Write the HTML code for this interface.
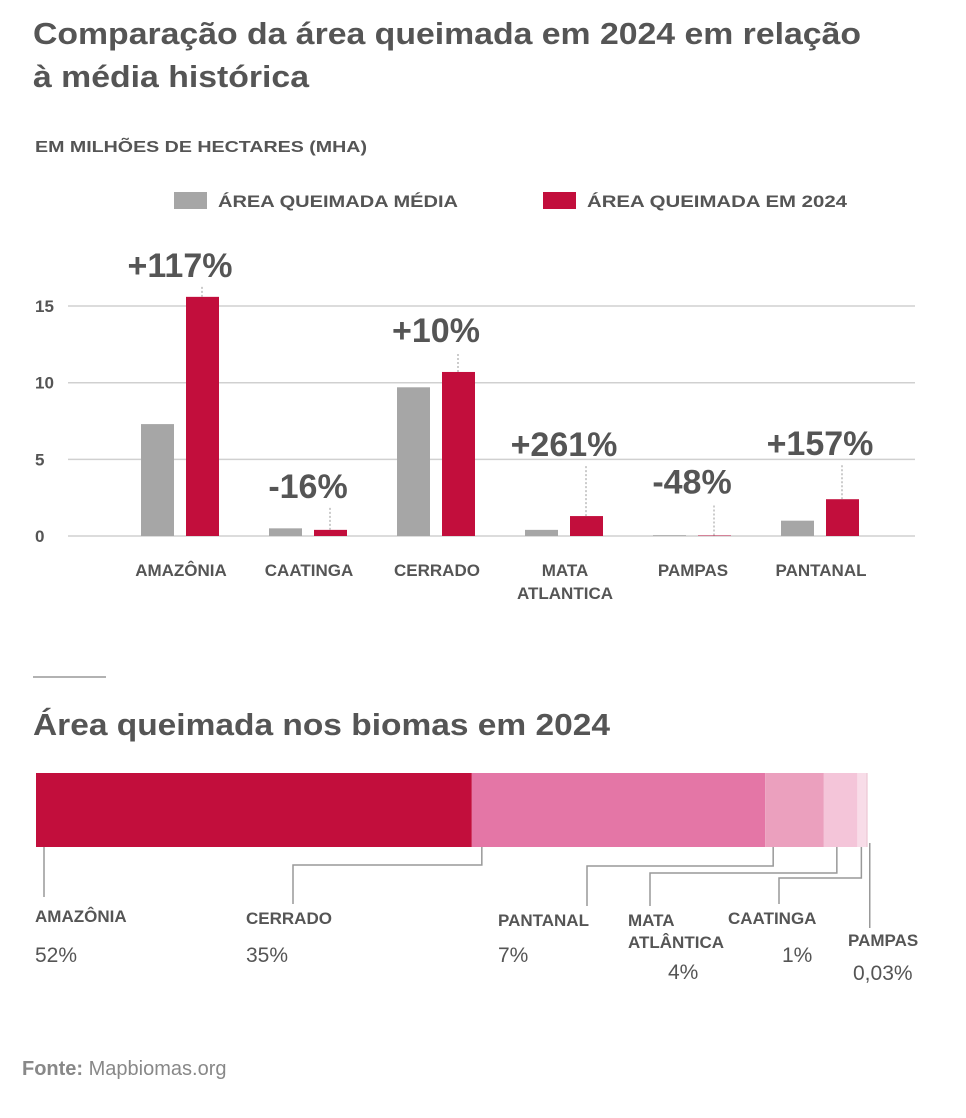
<!DOCTYPE html>
<html><head><meta charset="utf-8"><style>
body{margin:0;background:#fff;}
svg{display:block;font-family:"Liberation Sans",sans-serif;}
</style></head><body>
<svg id="c" width="966" height="1118" viewBox="0 0 966 1118">
<text x="33" y="44" font-size="31" font-weight="bold" fill="#555" textLength="828" lengthAdjust="spacingAndGlyphs">Comparação da área queimada em 2024 em relação</text>
<text x="33" y="87" font-size="31" font-weight="bold" fill="#555" textLength="276" lengthAdjust="spacingAndGlyphs">à média histórica</text>
<text x="35" y="152" font-size="16" font-weight="bold" fill="#555" textLength="332" lengthAdjust="spacingAndGlyphs">EM MILHÕES DE HECTARES (MHA)</text>
<rect x="174" y="192" width="33" height="17" fill="#a6a6a6"/>
<text x="218" y="207" font-size="17" font-weight="bold" fill="#555" textLength="240" lengthAdjust="spacingAndGlyphs">ÁREA QUEIMADA MÉDIA</text>
<rect x="543" y="192" width="33" height="17" fill="#c20e3c"/>
<text x="587" y="207" font-size="17" font-weight="bold" fill="#555" textLength="260" lengthAdjust="spacingAndGlyphs">ÁREA QUEIMADA EM 2024</text>
<g id="plot"></g>
<line x1="33" y1="677" x2="106" y2="677" stroke="#999" stroke-width="1.5"/>
<text x="33" y="735" font-size="31" font-weight="bold" fill="#555" textLength="577" lengthAdjust="spacingAndGlyphs">Área queimada nos biomas em 2024</text>
<g id="stack"></g>
<text x="22" y="1075" font-size="20" fill="#888"><tspan font-weight="bold">Fonte:</tspan> Mapbiomas.org</text>
</svg>
<script>
const categories=["AMAZÔNIA","CAATINGA","CERRADO","MATA|ATLANTICA","PAMPAS","PANTANAL"];
const avgValues=[7.3,0.5,9.7,0.4,0.05,1.0];
const values2024=[15.6,0.4,10.7,1.3,0.03,2.4];
const changeLabels=["+117%","-16%","+10%","+261%","-48%","+157%"];
const yTicks=[0,5,10,15];
const shareNames=["AMAZÔNIA","CERRADO","PANTANAL","MATA|ATLÂNTICA","CAATINGA","PAMPAS"];
const shareValues=[52,35,7,4,1,0.03];
const shareLabels=["52%","35%","7%","4%","1%","0,03%"];

const NS="http://www.w3.org/2000/svg";
function mk(p,t,a,txt){const e=document.createElementNS(NS,t);for(const k in a)e.setAttribute(k,a[k]);if(txt!==undefined)e.textContent=txt;p.appendChild(e);return e;}
const plot=document.getElementById('plot');
const y0=536,ppu=15.33;
const y=v=>y0-v*ppu;
const cx=i=>180+i*128;
// annotation dash lengths (layout only)
const dashLen=[10,22,20,50,32,34];
yTicks.forEach(t=>{
  const g=mk(plot,'line',{x1:68,x2:915,y1:y(t),y2:y(t),stroke:'#d0d0d0','stroke-width':1.5});
  
  
  const l=mk(plot,'text',{x:35,y:y(t)+6,'font-size':17,'font-weight':'bold',fill:'#555'},t);
  
  
});
categories.forEach((c,i)=>{
  const a=mk(plot,'rect',{x:cx(i)-39,y:y(avgValues[i]),width:33,height:avgValues[i]*ppu,fill:'#a6a6a6'});
  
  
  const b=mk(plot,'rect',{x:cx(i)+6,y:y(values2024[i]),width:33,height:values2024[i]*ppu,fill:'#c20e3c'});
  
  
  const top=y(values2024[i]);
  const d=mk(plot,'line',{x1:cx(i)+22,x2:cx(i)+22,y1:top,y2:top-dashLen[i],stroke:'#999','stroke-dasharray':'2,2'});
  
  
  const p=mk(plot,'text',{x:cx(i),y:top-dashLen[i]-10,'font-size':34,'font-weight':'bold',fill:'#555','text-anchor':'middle'},changeLabels[i]);
  
  
  c.split('|').forEach((s,k)=>{
    const t=mk(plot,'text',{x:cx(i)+1,y:576+k*23,'font-size':17,'font-weight':'bold',fill:'#555','text-anchor':'middle'},s);
    
    
  });
});
const stack=document.getElementById('stack');
const sx0=36,sw=830,total=shareValues.reduce((a,b)=>a+b,0);
const colors=['#c20e3c','#e476a6','#eba0be','#f4c5d9','#f8dce8','#f0d0dc'];
const labX=[35,246,498,628,728,848];
const labY=[922,924,926,926,924,946];
const elbowY=[null,865,866,873,878,null];
const elbowX=[null,293,587,650,779,null];
let acc=0;
shareValues.forEach((v,i)=>{
  const x=sx0+acc/total*sw, w=Math.max(v/total*sw,2);
  acc+=v;
  const r=mk(stack,'rect',{x:x,y:773,width:w,height:74,fill:colors[i]});
  
  
  const ax=x+Math.min(w/2,[8,10,8,13,4,1][i]);
  let pts;
  if(i===0)pts=[[ax,847],[ax,897]];
  else if(i===5)pts=[[ax+3,843],[ax+3,928]];
  else pts=[[ax,847],[ax,elbowY[i]],[elbowX[i],elbowY[i]],[elbowX[i],labY[i]-20]];
  const pl=mk(stack,'polyline',{points:pts.map(p=>p.join(',')).join(' '),fill:'none',stroke:'#999','stroke-width':1.5});
  
  
  shareNames[i].split('|').forEach((s,k)=>{
    const t=mk(stack,'text',{x:labX[i],y:labY[i]+k*22,'font-size':17,'font-weight':'bold',fill:'#555'},s);
    
    
  });
  const py=i===3?979:(i===5?980:962);
  const px=i===3?668:(i===4?782:(i===5?853:labX[i]));
  const pt=mk(stack,'text',{x:px,y:py,'font-size':21,fill:'#555'},shareLabels[i]);
  
  
});
</script>
</body></html>
